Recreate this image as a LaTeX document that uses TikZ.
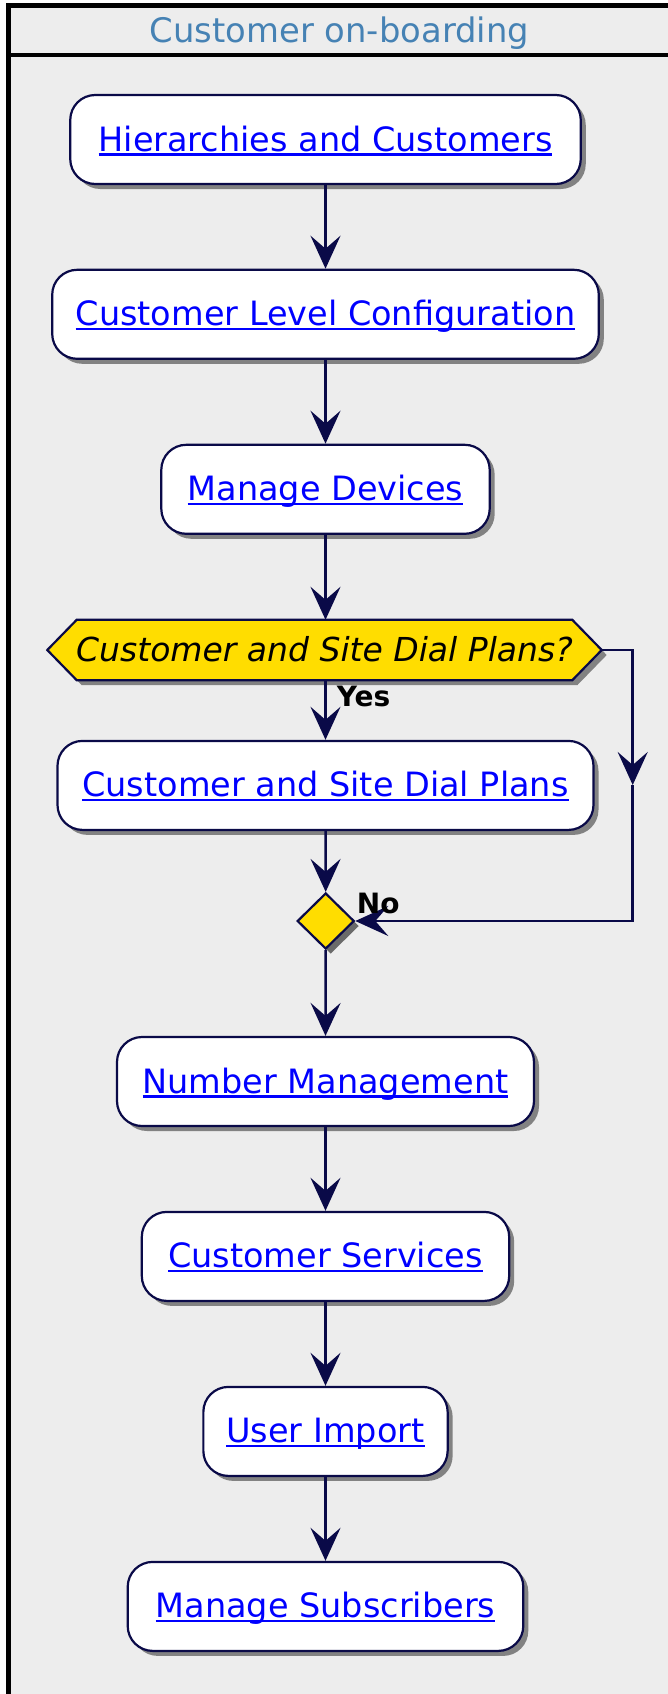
\documentclass[tikz,border=0pt]{standalone}
\usepackage{fontspec}
\setmainfont{DejaVu Sans}
\usetikzlibrary{arrows.meta,shapes.geometric,shadows}
\definecolor{navy}{RGB}{10,10,72}
\definecolor{lanebg}{RGB}{237,237,237}
\definecolor{decgold}{RGB}{255,221,0}
\definecolor{titleblue}{RGB}{70,130,180}
\definecolor{linkblue}{RGB}{0,0,255}
\pgfdeclarelayer{back}\pgfdeclarelayer{mid}
\pgfsetlayers{back,mid,main}
\newsavebox\ulbox
\newcommand\ulink[1]{\sbox\ulbox{#1}\rlap{\rule[-4.5pt]{\wd\ulbox}{2.5pt}}\usebox\ulbox}
\tikzset{
  act/.style={draw=navy, line width=2.2pt, fill=white, rounded corners=25pt,
    minimum height=89pt, inner sep=0pt, text height=26pt, text depth=3pt,
    text=linkblue, font=\fontsize{33.5}{40}\selectfont,
    drop shadow={shadow xshift=5pt, shadow yshift=-5pt, opacity=0.45, fill=black}},
  dectext/.style={minimum width=554pt, minimum height=60pt, inner sep=0pt,
    text height=26pt, text depth=3pt, text=black, font=\fontsize{33}{40}\selectfont\itshape},
  decshape/.style={draw=navy, line width=2.2pt, fill=decgold,
    drop shadow={shadow xshift=5pt, shadow yshift=-5pt, opacity=0.45, fill=black}},
  merge/.style={diamond, draw=navy, line width=2.2pt, fill=decgold, minimum width=57pt,
    minimum height=56pt, inner sep=0pt,
    drop shadow={shadow xshift=5pt, shadow yshift=-5pt, opacity=0.55, fill=black}},
  flow/.style={draw=navy, line width=2.5pt, -{Stealth[length=33pt,width=30pt,inset=13pt]}},
  lbl/.style={font=\fontsize{28}{32}\selectfont\bfseries, text=black, inner sep=0pt, anchor=base west},
  lanetitle/.style={font=\fontsize{33.8}{40}\selectfont, text=titleblue, inner sep=0pt, anchor=base},
  frameline/.style={draw=black, line width=4.6pt},
}
\begin{document}
\begin{tikzpicture}[x=1pt,y=1pt]
\useasboundingbox (0,0) rectangle (667,-1694);
\clip (0,0) rectangle (667,-1694);
\begin{pgfonlayer}{back}
  \fill[white] (0,0) rectangle (667,-1694);
  \fill[lanebg] (8.5,-5.7) rectangle (720,-1750);
  \draw[frameline] (720,-5.7) -- (8.5,-5.7) -- (8.5,-1750);
  \draw[frameline] (8.5,-55) -- (720,-55);
\end{pgfonlayer}
\node[lanetitle] (title) at (339.5,-42.3) {Customer on-boarding};

\node[act, minimum width=510.5pt] (b1) at (325.5,-139.5) {\ulink{Hierarchies and Customers}};
\node[act, minimum width=546.6pt] (b2) at (325.5,-314.3) {\ulink{Customer Level Configuration}};
\node[act, minimum width=328.4pt] (b3) at (325.5,-489.3) {\ulink{Manage Devices}};
\node[dectext] (dec) at (324.5,-650) {Customer and Site Dial Plans?};
\begin{pgfonlayer}{mid}
  \path[decshape] (dec.west) -- ([xshift=29.4pt]dec.north west) -- ([xshift=-29.4pt]dec.north east)
    -- (dec.east) -- ([xshift=-29.4pt]dec.south east) -- ([xshift=29.4pt]dec.south west) -- cycle;
\end{pgfonlayer}
\node[act, minimum width=536pt] (b5) at (325.5,-785.4) {\ulink{Customer and Site Dial Plans}};
\node[merge] (mg) at (325.7,-921) {};
\node[act, minimum width=417pt] (b7) at (325.5,-1081.5) {\ulink{Number Management}};
\node[act, minimum width=367.4pt] (b8) at (325.5,-1256.4) {\ulink{Customer Services}};
\node[act, minimum width=244.3pt] (b9) at (325.5,-1431.4) {\ulink{User Import}};
\node[act, minimum width=395.6pt] (b10) at (325.5,-1606.4) {\ulink{Manage Subscribers}};

\coordinate (rtip) at (632.7,-785);

\draw[flow] (b1.south) -- (b2.north);
\draw[flow] (b2.south) -- (b3.north);
\draw[flow] (b3.south) -- (b3.south |- dec.north);
\draw[flow] (dec.south -| b5.north) -- (b5.north);
\draw[flow] (b5.south) -- (mg.north);
\draw[flow] (dec.east) -| (rtip);
\draw[flow] (rtip) |- (mg.east);
\draw[flow] (mg.south) -- (b7.north);
\draw[flow] (b7.south) -- (b8.north);
\draw[flow] (b8.south) -- (b9.north);
\draw[flow] (b9.south) -- (b10.north);

\node[lbl] (yes) at (336.7,-706) {Yes};
\node[lbl] (no) at (356.7,-913) {No};
\end{tikzpicture}
\end{document}
